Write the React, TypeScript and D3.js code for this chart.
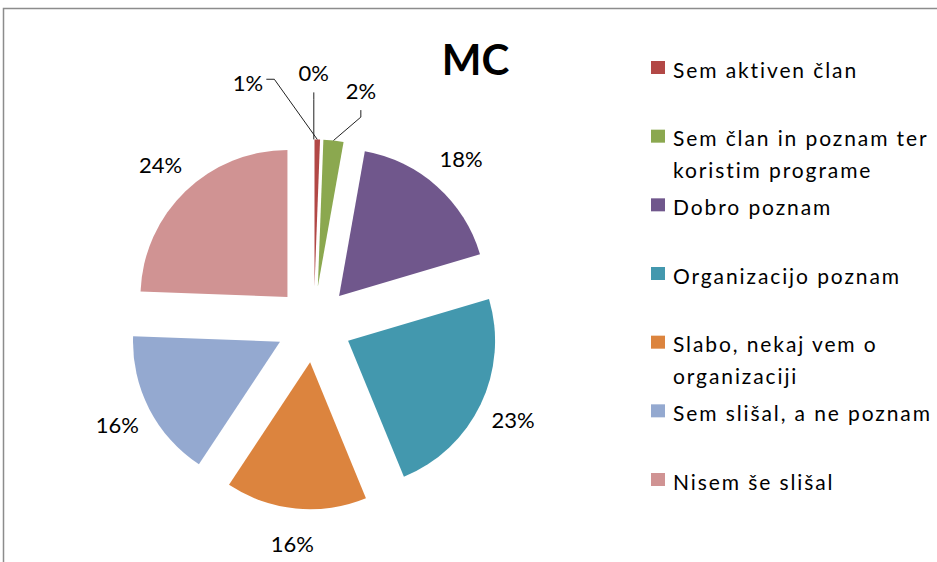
import React from "react";
import * as d3 from "d3";

const title = "MC";
const categories = [
  "Sem aktiven član",
  "Sem član in poznam ter koristim programe",
  "Dobro poznam",
  "Organizacijo poznam",
  "Slabo, nekaj vem o organizaciji",
  "Sem slišal, a ne poznam",
  "Nisem še slišal",
  "",
];
const values = [0.6, 2.2, 17.6, 23.4, 15.5, 16.3, 24.4, 0];
const colors = ["#B24846", "#8BA84F", "#70578C", "#4398AE", "#DC843E", "#94A9D0", "#D09393", "#4F81BD"];

// layout tweaks for the small-slice labels (Excel moves them and adds leader lines)
const smallLabelLayout: Record<number, { angleDeg: number; dist: number; leader: "right" | "bottom" }> = {
  0: { angleDeg: -15.3, dist: 250, leader: "right" },
  1: { angleDeg: 11.4, dist: 238, leader: "bottom" },
  7: { angleDeg: 0, dist: 251, leader: "bottom" },
};

const W = 937;
const H = 562;
const cx = 313.8;
const cy = 324.4;
const R = 147;
const EXPLODE = 38;
const LABEL_R = 221;

function wrap(text: string, maxChars: number): string[] {
  const words = text.split(" ");
  const lines: string[] = [];
  let cur = "";
  for (const w of words) {
    const next = cur ? cur + " " + w : w;
    if (next.length > maxChars && cur) {
      lines.push(cur);
      cur = w;
    } else cur = next;
  }
  if (cur) lines.push(cur);
  return lines;
}

export default function App() {
  const pie = d3
    .pie<number>()
    .sort(null)
    .value((d) => d)
    .startAngle(0)
    .endAngle(2 * Math.PI);
  const arcs = pie(values);
  const arcGen = d3.arc<d3.PieArcDatum<number>>().innerRadius(0).outerRadius(R);

  const font = "Lato, 'Open Sans', sans-serif";

  const legendItems = categories
    .map((c, i) => ({ c, i }))
    .filter((d) => d.c !== "");
  const legendY = d3.scaleLinear().domain([0, legendItems.length - 1]).range([61, 473]);

  return (
    <svg
      width={W}
      height={H}
      style={{ position: "absolute", left: 0, top: 0, background: "#fff" }}
      fontFamily={font}
    >
      <rect x={3.5} y={8.5} width={W + 10} height={H + 10} fill="#fff" stroke="#8c8c8c" strokeWidth={1.5} />
      <text x={475.5} y={75} textAnchor="middle" fontSize={42} fontWeight="bold" fill="#000">
        {title}
      </text>
      {arcs.map((a, i) => {
        const mid = (a.startAngle + a.endAngle) / 2;
        const dx = EXPLODE * Math.sin(mid);
        const dy = -EXPLODE * Math.cos(mid);
        if (a.value === 0) return null;
        return (
          <path
            key={"s" + i}
            d={arcGen(a) || ""}
            transform={`translate(${cx + dx},${cy + dy})`}
            fill={colors[i]}
          />
        );
      })}
      {arcs.map((a, i) => {
        const mid = (a.startAngle + a.endAngle) / 2;
        const label = Math.round(a.value) + "%";
        const lay = smallLabelLayout[i];
        if (!lay) {
          const lx = cx + LABEL_R * Math.sin(mid);
          const ly = cy - LABEL_R * Math.cos(mid);
          return (
            <text key={"l" + i} x={lx} y={ly} dy="0.36em" textAnchor="middle" fontSize={22} fill="#000">
              {label}
            </text>
          );
        }
        const ang = (lay.angleDeg * Math.PI) / 180;
        const lx = cx + lay.dist * Math.sin(ang);
        const ly = cy - lay.dist * Math.cos(ang);
        const ax = cx + EXPLODE * Math.sin(mid);
        const ay = cy - EXPLODE * Math.cos(mid);
        const ex = ax + R * Math.sin(mid);
        const ey = ay - R * Math.cos(mid);
        let sx: number, sy: number, bx: number, by: number;
        if (lay.leader === "right") {
          sx = lx + 18.5;
          sy = ly - 4;
          bx = lx + 26.5;
          by = sy;
        } else {
          sx = lx;
          sy = ly + 19;
          bx = lx;
          by = ly + 26;
        }
        const line = d3.line()([
          [sx, sy],
          [bx, by],
          [ex, ey],
        ]);
        return (
          <g key={"l" + i}>
            <path d={line || ""} fill="none" stroke="#222" strokeWidth={1} />
            <text x={lx} y={ly} dy="0.36em" textAnchor="middle" fontSize={22} fill="#000">
              {label}
            </text>
          </g>
        );
      })}
      {legendItems.map((d, k) => {
        const y0 = legendY(k);
        const lines = wrap(d.c, 23);
        return (
          <g key={"g" + k}>
            <rect x={651} y={y0} width={14} height={13} fill={colors[d.i]} />
            {lines.map((ln, j) => (
              <text
                key={j}
                x={673}
                y={y0 + 16.5 + j * 32}
                fontSize={21}
                letterSpacing={1.9}
                fill="#000"
              >
                {ln}
              </text>
            ))}
          </g>
        );
      })}
    </svg>
  );
}
